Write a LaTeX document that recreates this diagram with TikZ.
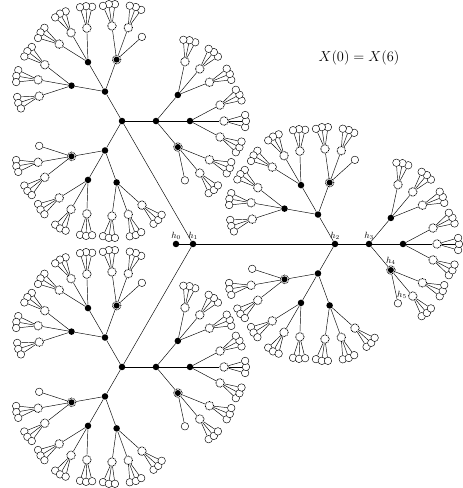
\documentclass[tikz,border=0pt]{standalone}
\usetikzlibrary{positioning}
\begin{document}
\begin{tikzpicture}[
  x=1pt, y=1pt,
  line width=0.45pt,
  hub/.style={circle, fill=black, inner sep=0pt, minimum size=6.5pt},
  ring/.style={circle, draw, line width=0.9pt, dash pattern=on 0.7pt off 0.8pt, fill=white, inner sep=0pt, minimum size=8.5pt},
  ringhub/.style={ring, path picture={\fill[black] (path picture bounding box.center) circle (3pt);}},
  leaf/.style={circle, draw, fill=white, inner sep=0pt, minimum size=7.5pt},
  hlabel/.style={font=\small, inner sep=1pt}
]
  \useasboundingbox (0,0) rectangle (463,488);

  % Centre of the path
  \node[hub] (h1) at (193,244) {};
  \node[hub] (h0) at (176,244) {};
  \draw (h0) -- (h1);

  % Arms, branches and leaves
  \foreach \i/\ai in {1/120, 2/0, 3/240} {
    \path (h1) ++(\ai:142) node[hub] (b\i) {};
    \draw (h1) -- (b\i);
    \foreach \j/\oj in {1/-120, 2/0, 3/120} {
      \pgfmathsetmacro\aj{\ai+\oj}
      \path (b\i) ++(\aj:34) node[hub] (b\i\j) {};
      \draw (b\i) -- (b\i\j);
      \foreach \k/\ok in {1/-50, 2/0, 3/50} {
        \pgfmathsetmacro\ak{\aj+\ok}
        \ifnum\k=1
          \path (b\i\j) ++(\ak:34) node[ringhub] (b\i\j\k) {};
        \else
          \path (b\i\j) ++(\ak:34) node[hub] (b\i\j\k) {};
        \fi
        \draw (b\i\j) -- (b\i\j\k);
        \foreach \l/\ol in {1/-28, 2/0, 3/28} {
          \pgfmathsetmacro\al{\ak+\ol}
          \ifnum\k\l=11
            \path (b\i\j\k) ++(\al:34) node[leaf] (b\i\j\k\l) {};
            \draw (b\i\j\k) -- (b\i\j\k\l);
          \else
            \path (b\i\j\k) ++(\al:34) node[ring] (b\i\j\k\l) {};
            \draw (b\i\j\k) -- (b\i\j\k\l);
            \foreach \m/\om in {1/-16, 2/0, 3/16} {
              \pgfmathsetmacro\am{\al+\om}
              \path (b\i\j\k\l) ++(\am:22) node[leaf] (b\i\j\k\l\m) {};
              \draw (b\i\j\k\l) -- (b\i\j\k\l\m);
            }
          \fi
        }
      }
    }
  }

  % Labels
  \node[hlabel, above=0pt of h0] (l0) {$h_0$};
  \node[hlabel, above=0pt of h1] (l1) {$h_1$};
  \node[hlabel, above=0pt of b2] (l2) {$h_2$};
  \node[hlabel, above=0pt of b22] (l3) {$h_3$};
  \node[hlabel, above=0pt of b221] (l4) {$h_4$};
  \node[hlabel, above=0pt of b2211, xshift=4pt] (l5) {$h_5$};
  \node[font=\Large] (title) at (359,430) {$X(0)=X(6)$};
\end{tikzpicture}
\end{document}
